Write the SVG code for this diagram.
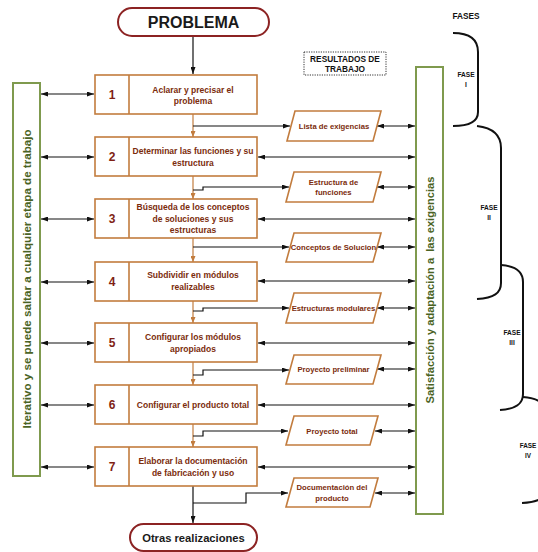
<svg xmlns="http://www.w3.org/2000/svg" width="538" height="552" viewBox="0 0 538 552">
<style>
.bg{fill:#fff}
.pill{fill:#fff;stroke:#8c2323;stroke-width:2}
.pilltxt{font-family:"Liberation Sans",Arial,sans-serif;font-weight:bold;fill:#1a1a1a;text-anchor:middle}
.box{fill:#fff;stroke:#c27c3e;stroke-width:1.6}
.num{font-family:"Liberation Sans",Arial,sans-serif;font-weight:bold;font-size:12px;fill:#7f1f14;text-anchor:middle}
.btxt{font-family:"Liberation Sans",Arial,sans-serif;font-weight:bold;font-size:8.5px;fill:#7b2c0c;text-anchor:middle}
.ptxt{font-family:"Liberation Sans",Arial,sans-serif;font-weight:bold;font-size:7.7px;fill:#7b2c0c;text-anchor:middle}
.par{fill:#fff;stroke:#c27c3e;stroke-width:1.6}
.bar{fill:#fff;stroke:#7f9a4e;stroke-width:2}
.bartxt{font-family:"Liberation Sans",Arial,sans-serif;font-weight:bold;fill:#4a6324;text-anchor:middle}
.blk{fill:none;stroke:#111;stroke-width:1.2}
.org{fill:none;stroke:#c27c3e;stroke-width:1.2}
.dbl{marker-start:url(#ah);marker-end:url(#ah)}
.one{marker-end:url(#ah)}
.brace{fill:none;stroke:#111;stroke-width:2}
.lbl{font-family:"Liberation Sans",Arial,sans-serif;font-weight:bold;fill:#111;text-anchor:middle}
</style>
<defs>
<marker id="ah" viewBox="0 0 7 5" refX="7" refY="2.5" markerWidth="7" markerHeight="5" markerUnits="userSpaceOnUse" orient="auto-start-reverse"><path d="M0,0 L7,2.5 L0,5 z" fill="#111"/></marker>
<marker id="aho" viewBox="0 0 6 5" refX="6" refY="2.5" markerWidth="6" markerHeight="5" markerUnits="userSpaceOnUse" orient="auto"><path d="M0,0 L6,2.5 L0,5 z" fill="#c27c3e"/></marker>
</defs>
<rect class="bg" x="0" y="0" width="538" height="552"/>

<g id="connectors">
<path class="blk one" d="M193,37 V74"/>
<path class="blk one" d="M193,486 V523"/>
<g id="flow-orange">
<path class="org" marker-end="url(#aho)" d="M193,114 V137"/>
<path class="org" marker-end="url(#aho)" d="M193,176 V199"/>
<path class="org" marker-end="url(#aho)" d="M193,238 V262"/>
<path class="org" marker-end="url(#aho)" d="M193,301 V323"/>
<path class="org" marker-end="url(#aho)" d="M193,362 V385"/>
<path class="org" marker-end="url(#aho)" d="M193,424 V447"/>
</g>
<g id="left-arrows">
<path class="blk dbl" d="M41,94 H94"/>
<path class="blk dbl" d="M41,157 H94"/>
<path class="blk dbl" d="M41,219 H94"/>
<path class="blk dbl" d="M41,282 H94"/>
<path class="blk dbl" d="M41,343 H94"/>
<path class="blk dbl" d="M41,405 H94"/>
<path class="blk dbl" d="M41,467 H94"/>
</g>
<g id="right-arrows">
<path class="blk dbl" d="M258,157 H415"/>
<path class="blk dbl" d="M258,219 H415"/>
<path class="blk dbl" d="M258,281 H415"/>
<path class="blk dbl" d="M258,343 H415"/>
<path class="blk dbl" d="M258,405 H415"/>
<path class="blk dbl" d="M258,467 H415"/>
<path class="blk dbl" d="M377,126 H415"/>
<path class="blk dbl" d="M377,187 H415"/>
<path class="blk dbl" d="M377,247 H415"/>
<path class="blk dbl" d="M377,308 H415"/>
<path class="blk dbl" d="M377,369 H415"/>
<path class="blk dbl" d="M375,431 H415"/>
<path class="blk dbl" d="M375,493 H415"/>
</g>
<g id="branches">
<path class="blk one" d="M193,126 H290"/>
<path class="blk one" d="M193,190 H203 V187 H289"/>
<path class="blk one" d="M193,247 H289"/>
<path class="blk one" d="M193,311 H203 V308 H289"/>
<path class="blk one" d="M193,375 H203 V370 H289"/>
<path class="blk one" d="M193,436 H203 V431 H288"/>
<path class="blk one" d="M193,503 H246 V493 H288"/>
</g>
</g>

<g id="problema">
<rect class="pill" x="118" y="8" width="151" height="28" rx="14"/>
<text class="pilltxt" x="193.5" y="28" font-size="16">PROBLEMA</text>
</g>

<g id="otras">
<rect class="pill" x="130" y="524" width="127" height="27" rx="13.5"/>
<text class="pilltxt" x="193.5" y="542" font-size="11.2">Otras realizaciones</text>
</g>

<g id="resultados">
<rect x="304" y="52" width="82" height="23" fill="#fff" stroke="#333" stroke-width="1" stroke-dasharray="1.2,1.2"/>
<text class="lbl" x="345" y="61.5" font-size="8.3">RESULTADOS DE</text>
<text class="lbl" x="345" y="72" font-size="8.3">TRABAJO</text>
</g>

<g id="left-bar">
<rect class="bar" x="13" y="83" width="27" height="393"/>
<text class="bartxt" font-size="11.6" transform="translate(31,279) rotate(-90)">Iterativo y se puede saltar a cualquier etapa de trabajo</text>
</g>

<g id="right-bar">
<rect class="bar" x="416" y="67" width="27" height="447"/>
<text class="bartxt" font-size="11.1" xml:space="preserve" transform="translate(434,290) rotate(-90)">Satisfacción y adaptación a  las exigencias</text>
</g>

<g id="step1">
<rect class="box" x="95" y="75" width="162" height="39"/>
<line class="box" x1="129" y1="75" x2="129" y2="114"/>
<text class="num" x="112" y="99">1</text>
<text class="btxt" x="193" y="92.5">Aclarar y precisar el</text>
<text class="btxt" x="193" y="104">problema</text>
</g>
<g id="step2">
<rect class="box" x="95" y="137" width="162" height="39"/>
<line class="box" x1="129" y1="137" x2="129" y2="176"/>
<text class="num" x="112" y="161">2</text>
<text class="btxt" x="193" y="154">Determinar las funciones y su</text>
<text class="btxt" x="193" y="165.5">estructura</text>
</g>
<g id="step3">
<rect class="box" x="95" y="199" width="162" height="39"/>
<line class="box" x1="129" y1="199" x2="129" y2="238"/>
<text class="num" x="112" y="223">3</text>
<text class="btxt" x="193" y="210">Búsqueda de los conceptos</text>
<text class="btxt" x="193" y="221.5">de soluciones y sus</text>
<text class="btxt" x="193" y="233">estructuras</text>
</g>
<g id="step4">
<rect class="box" x="95" y="262" width="162" height="39"/>
<line class="box" x1="129" y1="262" x2="129" y2="301"/>
<text class="num" x="112" y="286">4</text>
<text class="btxt" x="193" y="278">Subdividir en módulos</text>
<text class="btxt" x="193" y="289.5">realizables</text>
</g>
<g id="step5">
<rect class="box" x="95" y="323" width="162" height="39"/>
<line class="box" x1="129" y1="323" x2="129" y2="362"/>
<text class="num" x="112" y="347">5</text>
<text class="btxt" x="193" y="340">Configurar los módulos</text>
<text class="btxt" x="193" y="351.5">apropiados</text>
</g>
<g id="step6">
<rect class="box" x="95" y="385" width="162" height="39"/>
<line class="box" x1="129" y1="385" x2="129" y2="424"/>
<text class="num" x="112" y="409">6</text>
<text class="btxt" x="193" y="408">Configurar el producto total</text>
</g>
<g id="step7">
<rect class="box" x="95" y="447" width="162" height="39"/>
<line class="box" x1="129" y1="447" x2="129" y2="486"/>
<text class="num" x="112" y="471">7</text>
<text class="btxt" x="193" y="464">Elaborar la documentación</text>
<text class="btxt" x="193" y="475.5">de fabricación y uso</text>
</g>

<g id="r1">
<polygon class="par" points="295,111 381,111 373,141 287,141"/>
<text class="ptxt" x="334" y="129">Lista de exigencias</text>
</g>
<g id="r2">
<polygon class="par" points="294,172 381,172 373,202 286,202"/>
<text class="ptxt" x="333.5" y="185">Estructura de</text>
<text class="ptxt" x="333.5" y="195">funciones</text>
</g>
<g id="r3">
<polygon class="par" points="294,233 381,233 373,262 286,262"/>
<text class="ptxt" x="333.5" y="250">Conceptos de Solucion</text>
</g>
<g id="r4">
<polygon class="par" points="294,293 381,293 373,323 286,323"/>
<text class="ptxt" x="333.5" y="311">Estructuras modulares</text>
</g>
<g id="r5">
<polygon class="par" points="294,355 381,355 373,384 286,384"/>
<text class="ptxt" x="333.5" y="372">Proyecto preliminar</text>
</g>
<g id="r6">
<polygon class="par" points="294,416 378,416 370,445 286,445"/>
<text class="ptxt" x="332" y="434">Proyecto total</text>
</g>
<g id="r7">
<polygon class="par" points="294,478 378,478 370,507 286,507"/>
<text class="ptxt" x="332" y="490">Documentación del</text>
<text class="ptxt" x="332" y="501">producto</text>
</g>

<g id="fases">
<text class="lbl" x="466" y="19" font-size="8.3">FASES</text>
<g id="fase1">
<path class="brace" d="M453,33 C470,33 478,40 478,52 V112 C478,121 470,126 453,126"/>
<text class="lbl" x="466" y="77" font-size="6.6">FASE</text>
<text class="lbl" x="466" y="87" font-size="6.6">I</text>
</g>
<g id="fase2">
<path class="brace" d="M477,126 C494,128 501,136 501,148 V283 C501,293 494,298 477,299"/>
<text class="lbl" x="489" y="210" font-size="6.6">FASE</text>
<text class="lbl" x="489" y="220" font-size="6.6">II</text>
</g>
<g id="fase3">
<path class="brace" d="M501,265 C516,266 523,272 523,282 V394 C523,404 516,409 500,410"/>
<text class="lbl" x="512" y="335" font-size="6.6">FASE</text>
<text class="lbl" x="512" y="345" font-size="6.6">III</text>
</g>
<g id="fase4">
<path class="brace" d="M523,397 C539,398 546,404 546,414 V488 C546,498 539,502 522,503"/>
<text class="lbl" x="528" y="448" font-size="6.4">FASE</text>
<text class="lbl" x="528" y="458" font-size="6.4">IV</text>
</g>
</g>
</svg>
